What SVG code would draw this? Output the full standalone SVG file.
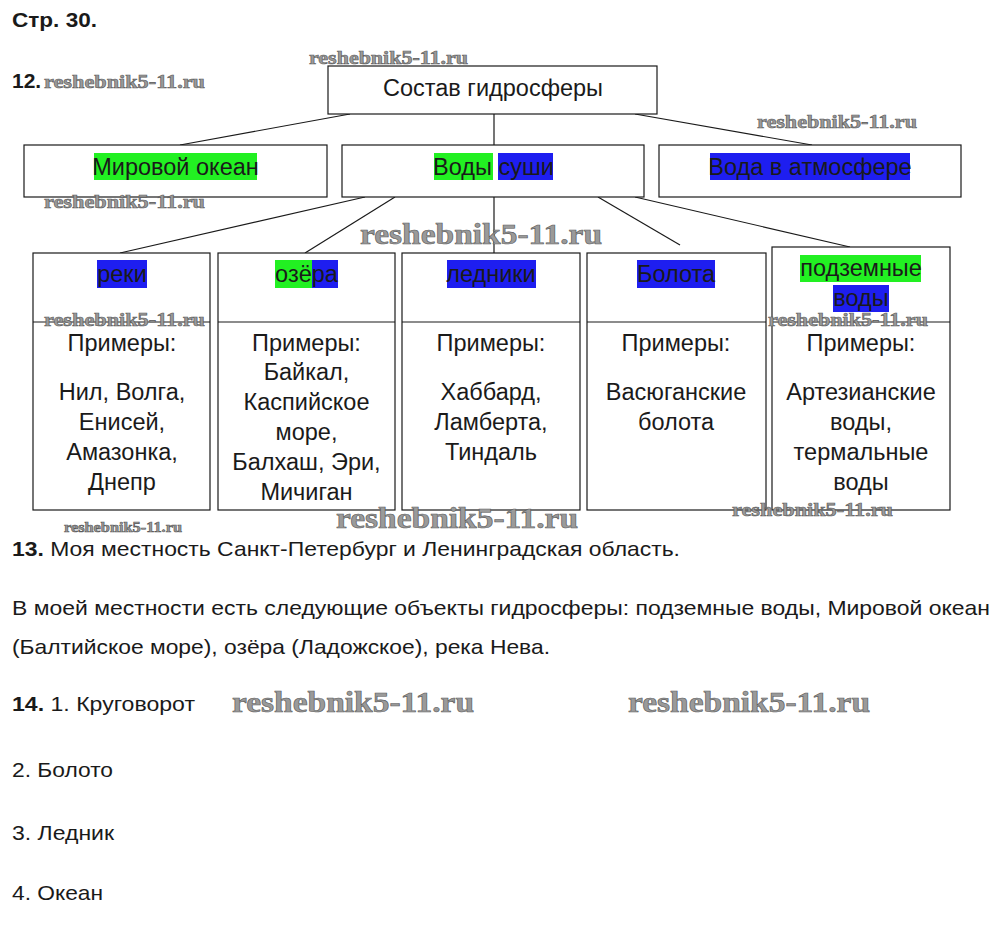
<svg xmlns="http://www.w3.org/2000/svg" width="1000" height="946" viewBox="0 0 1000 946">
<style>
.t{font-family:"Liberation Sans",Arial,sans-serif;font-size:21px;fill:#1a1a1a}
.d{font-size:23.5px}
.c{text-anchor:middle}
.b{font-weight:bold}
.box{fill:#fff;stroke:#1a1a1a;stroke-width:1.2}
.ln{stroke:#1a1a1a;stroke-width:1.2;fill:none}
.g{fill:#22f022}
.bl{fill:#1e1ef0}
.wm{font-family:"Liberation Serif","Times New Roman",serif;font-weight:bold;fill:#9a9a9a;stroke:#5a5a5a;stroke-width:0.6}
</style>
<rect width="1000" height="946" fill="#fff"/>
<text class="t b" x="12" y="27" font-size="20" textLength="85" lengthAdjust="spacingAndGlyphs">Стр. 30.</text>
<text class="t b" x="12" y="88" font-size="20">12.</text>

<g id="connectors">
<line class="ln" x1="350" y1="114" x2="180" y2="145"/>
<line class="ln" x1="494" y1="114" x2="494" y2="145"/>
<line class="ln" x1="635" y1="114" x2="812" y2="145"/>
<line class="ln" x1="365" y1="197" x2="120" y2="253"/>
<line class="ln" x1="395" y1="197" x2="305" y2="253"/>
<line class="ln" x1="494" y1="197" x2="494" y2="253"/>
<line class="ln" x1="598" y1="197" x2="680" y2="245"/>
<line class="ln" x1="635" y1="197" x2="850" y2="247"/>
</g>

<g id="root">
<rect class="box" x="328" y="66" width="329" height="48"/>
<text class="t d c" x="493" y="96">Состав гидросферы</text>
</g>

<g id="ocean">
<rect class="box" x="24" y="145" width="303" height="52"/>
<rect class="g" x="94" y="153" width="163" height="27"/>
<text class="t d c" x="175.5" y="175">Мировой океан</text>
</g>
<g id="land">
<rect class="box" x="342" y="145" width="302" height="52"/>
<rect class="g" x="434" y="153" width="59" height="27"/>
<rect class="bl" x="498" y="153" width="55" height="27"/>
<text class="t d c" x="493.5" y="175">Воды суши</text>
</g>
<g id="atmo">
<rect class="box" x="659" y="145" width="302" height="52"/>
<rect class="bl" x="710" y="153" width="200" height="27"/>
<text class="t d c" x="810" y="175">Вода в атмосфере</text>
</g>

<g id="rivers">
<rect class="box" x="33" y="253" width="177" height="257"/>
<line class="ln" x1="33" y1="322" x2="210" y2="322"/>
<rect class="bl" x="97" y="260" width="50" height="28"/>
<text class="t d c" x="122" y="282">реки</text>
<text class="t d c" x="122" y="351">Примеры:</text>
<text class="t d c" x="122" y="400">Нил, Волга,</text>
<text class="t d c" x="122" y="430">Енисей,</text>
<text class="t d c" x="122" y="460">Амазонка,</text>
<text class="t d c" x="122" y="490">Днепр</text>
</g>
<g id="lakes">
<rect class="box" x="218" y="253" width="177" height="257"/>
<line class="ln" x1="218" y1="322" x2="395" y2="322"/>
<rect class="g" x="275" y="260" width="37" height="28"/>
<rect class="bl" x="312" y="260" width="26" height="28"/>
<text class="t d c" x="306.5" y="282">озёра</text>
<text class="t d c" x="306.5" y="351">Примеры:</text>
<text class="t d c" x="306.5" y="380">Байкал,</text>
<text class="t d c" x="306.5" y="410">Каспийское</text>
<text class="t d c" x="306.5" y="440">море,</text>
<text class="t d c" x="306.5" y="470">Балхаш, Эри,</text>
<text class="t d c" x="306.5" y="500">Мичиган</text>
</g>
<g id="glaciers">
<rect class="box" x="402" y="253" width="178" height="257"/>
<line class="ln" x1="402" y1="322" x2="580" y2="322"/>
<rect class="bl" x="447" y="260" width="89" height="28"/>
<text class="t d c" x="491" y="282">ледники</text>
<text class="t d c" x="491" y="351">Примеры:</text>
<text class="t d c" x="491" y="400">Хаббард,</text>
<text class="t d c" x="491" y="430">Ламберта,</text>
<text class="t d c" x="491" y="460">Тиндаль</text>
</g>
<g id="swamps">
<rect class="box" x="587" y="253" width="179" height="257"/>
<line class="ln" x1="587" y1="322" x2="766" y2="322"/>
<rect class="bl" x="637" y="260" width="78" height="28"/>
<text class="t d c" x="676" y="282">Болота</text>
<text class="t d c" x="676" y="351">Примеры:</text>
<text class="t d c" x="676" y="400">Васюганские</text>
<text class="t d c" x="676" y="430">болота</text>
</g>
<g id="ground">
<rect class="box" x="772" y="247" width="178" height="263"/>
<line class="ln" x1="772" y1="322" x2="950" y2="322"/>
<rect class="g" x="800" y="255" width="121" height="27"/>
<rect class="bl" x="833" y="285" width="56" height="27"/>
<text class="t d c" x="861" y="276">подземные</text>
<text class="t d c" x="861" y="306">воды</text>
<text class="t d c" x="861" y="351">Примеры:</text>
<text class="t d c" x="861" y="400">Артезианские</text>
<text class="t d c" x="861" y="430">воды,</text>
<text class="t d c" x="861" y="460">термальные</text>
<text class="t d c" x="861" y="490">воды</text>
</g>

<g id="text">
<text class="t" x="12" y="556" textLength="668" lengthAdjust="spacingAndGlyphs"><tspan class="b">13.</tspan> Моя местность Санкт-Петербург и Ленинградская область.</text>
<text class="t" x="12" y="615" textLength="978" lengthAdjust="spacingAndGlyphs">В моей местности есть следующие объекты гидросферы: подземные воды, Мировой океан</text>
<text class="t" x="12" y="654" textLength="538" lengthAdjust="spacingAndGlyphs">(Балтийское море), озёра (Ладожское), река Нева.</text>
<text class="t" x="12" y="711" textLength="183" lengthAdjust="spacingAndGlyphs"><tspan class="b">14.</tspan> 1. Круговорот</text>
<text class="t" x="12" y="777" textLength="101" lengthAdjust="spacingAndGlyphs">2. Болото</text>
<text class="t" x="12" y="840" textLength="102" lengthAdjust="spacingAndGlyphs">3. Ледник</text>
<text class="t" x="12" y="900" textLength="91" lengthAdjust="spacingAndGlyphs">4. Океан</text>
</g>

<g id="watermarks">
<text class="wm" x="309" y="64" font-size="19" textLength="159" lengthAdjust="spacingAndGlyphs">reshebnik5-11.ru</text>
<text class="wm" x="44" y="88" font-size="19" textLength="161" lengthAdjust="spacingAndGlyphs">reshebnik5-11.ru</text>
<text class="wm" x="757" y="128" font-size="19" textLength="160" lengthAdjust="spacingAndGlyphs">reshebnik5-11.ru</text>
<text class="wm" x="44" y="208" font-size="19" textLength="161" lengthAdjust="spacingAndGlyphs">reshebnik5-11.ru</text>
<text class="wm" x="360" y="244" font-size="29" textLength="242" lengthAdjust="spacingAndGlyphs">reshebnik5-11.ru</text>
<text class="wm" x="44" y="326" font-size="19" textLength="161" lengthAdjust="spacingAndGlyphs">reshebnik5-11.ru</text>
<text class="wm" x="768" y="326" font-size="19" textLength="160" lengthAdjust="spacingAndGlyphs">reshebnik5-11.ru</text>
<text class="wm" x="64" y="532" font-size="14" textLength="118" lengthAdjust="spacingAndGlyphs">reshebnik5-11.ru</text>
<text class="wm" x="336" y="528" font-size="29" textLength="242" lengthAdjust="spacingAndGlyphs">reshebnik5-11.ru</text>
<text class="wm" x="732" y="516" font-size="19" textLength="161" lengthAdjust="spacingAndGlyphs">reshebnik5-11.ru</text>
<text class="wm" x="232" y="712" font-size="29" textLength="242" lengthAdjust="spacingAndGlyphs">reshebnik5-11.ru</text>
<text class="wm" x="628" y="712" font-size="29" textLength="242" lengthAdjust="spacingAndGlyphs">reshebnik5-11.ru</text>
</g>
</svg>
